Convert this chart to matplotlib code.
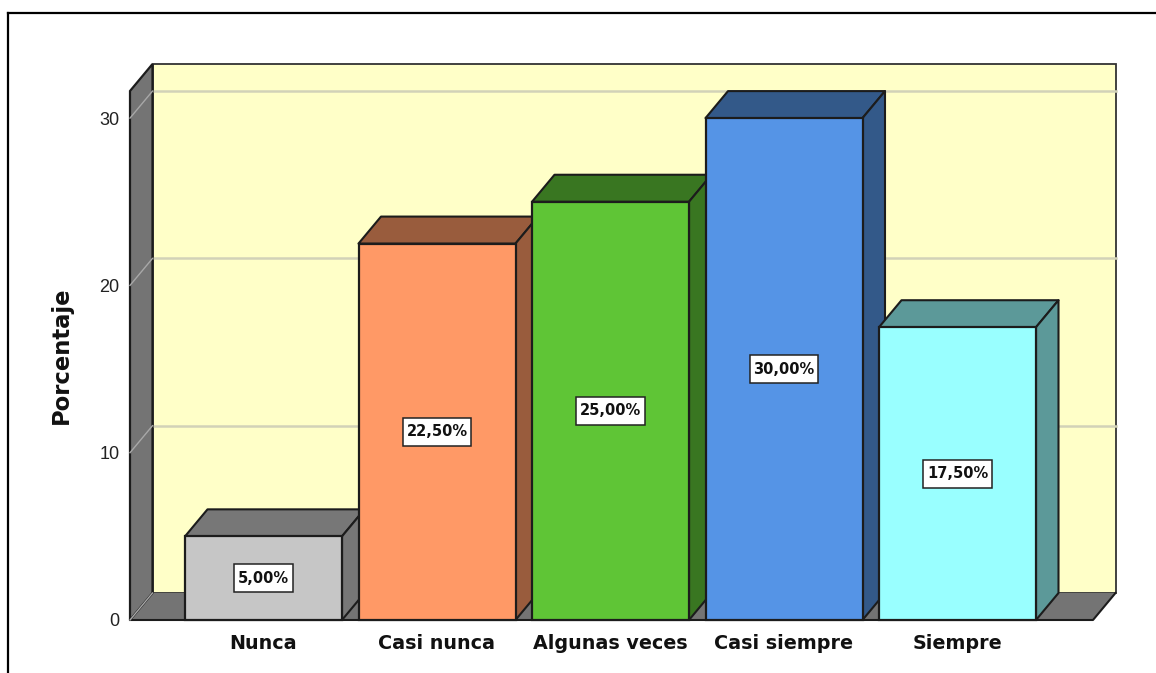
import numpy as np
import matplotlib
matplotlib.use('Agg')
import matplotlib.pyplot as plt
from matplotlib.patches import Polygon, Rectangle

categories = ['Nunca', 'Casi nunca', 'Algunas veces', 'Casi siempre', 'Siempre']
values = [5.0, 22.5, 25.0, 30.0, 17.5]
labels = ['5,00%', '22,50%', '25,00%', '30,00%', '17,50%']
front_colors = ['#C6C6C6', '#FF9966', '#5FC536', '#5594E6', '#99FFFF']
dark_colors = ['#777777', '#995C3D', '#397621', '#335989', '#5C9999']
yticks = [0, 10, 20, 30]

W, H = 1156, 673
plt.rcParams['font.family'] = ['Liberation Sans', 'DejaVu Sans']

fig = plt.figure(figsize=(W / 100, H / 100), dpi=100)
ax = fig.add_axes([130 / W, (H - 620) / H, (1093 - 130) / W, (620 - 91) / H])
ax.set_xlim((130 - 263.5) / 173.5, (1093 - 263.5) / 173.5)
ax.set_ylim(0, (620 - 91) / 16.73)
ax.patch.set_visible(False)
for s in ax.spines.values():
    s.set_visible(False)

# depth of the fake 3d box, in data units
dx = 22.5 / 173.5
dy = 27 / 16.73
x0, x1 = ax.get_xlim()
y1 = ax.get_ylim()[1]
edge = '#1c1c1c'
wall = '#747474'

# back wall, floor, left wall
ax.add_patch(Polygon([(x0 + dx, dy), (x1 + dx, dy), (x1 + dx, y1 + dy), (x0 + dx, y1 + dy)],
                     fc='#FFFFC8', ec='#333333', lw=1.3, clip_on=False, zorder=1))
for t in yticks[1:]:
    ax.plot([x0 + dx, x1 + dx], [t + dy, t + dy], color='#D2D2B8', lw=1.8, clip_on=False, zorder=1.5)
ax.add_patch(Polygon([(x0, 0), (x1, 0), (x1 + dx, dy), (x0 + dx, dy)],
                     fc=wall, ec='none', clip_on=False, zorder=2))
ax.plot([x0, x1, x1 + dx], [0, 0, dy], color=edge, lw=1.5, clip_on=False, zorder=2.1)
ax.add_patch(Polygon([(x0, 0), (x0 + dx, dy), (x0 + dx, y1 + dy), (x0, y1)],
                     fc=wall, ec=edge, lw=1.6, clip_on=False, zorder=2))
for t in yticks:
    ax.plot([x0, x0 + dx], [t, t + dy], color='#A8A8A8', lw=1, clip_on=False, zorder=2.5)

# bars, left to right so each one hides the side of the previous
bw = 157 / 173.5
boxes = []
for i, v in enumerate(values):
    z = 3 + i
    l, r = i - bw / 2, i + bw / 2
    ax.add_patch(Polygon([(l, v), (r, v), (r + dx, v + dy), (l + dx, v + dy)],
                         fc=dark_colors[i], ec=edge, lw=1.5, joinstyle='round', clip_on=False, zorder=z))
    ax.add_patch(Polygon([(r, 0), (r + dx, dy), (r + dx, v + dy), (r, v)],
                         fc=dark_colors[i], ec=edge, lw=1.5, joinstyle='round', clip_on=False, zorder=z))
    ax.bar(i, v, width=bw, color=front_colors[i], edgecolor=edge, linewidth=1.6, zorder=z + 0.1, clip_on=False)
    txt = ax.text(i, v / 2, labels[i], ha='center', va='center', fontsize=10.5, fontweight='bold',
                  family='DejaVu Sans', color='#111111', zorder=z + 0.3)
    boxes.append((txt, z))

# white boxes round the value labels, taller than the text
fig.canvas.draw()
rend = fig.canvas.get_renderer()
for (txt, z), v, i in zip(boxes, values, range(len(values))):
    w = (txt.get_window_extent(rend).width + 7) / 173.5
    h = 28 / 16.73
    ax.add_patch(Rectangle((i - w / 2, v / 2 - h / 2), w, h, fc='white', ec='#222222', lw=1.1, zorder=z + 0.2))

ax.set_xticks(range(len(categories)))
ax.set_xticklabels(categories, fontsize=13.8, fontweight='bold', family='DejaVu Sans', color='#111111')
ax.set_yticks(yticks)
ax.set_yticklabels([str(t) for t in yticks], fontsize=13, color='#222222')
ax.tick_params(axis='x', length=0, pad=10)
ax.tick_params(axis='y', length=0, pad=7.5)
ax.set_ylabel('Porcentaje', fontsize=16.3, fontweight='bold', family='DejaVu Sans', color='#111111', va='center')
ax.yaxis.set_label_coords((61.5 - 130) / (1093 - 130), (620 - 355) / (620 - 91))

# outer frame of the screenshot
fig.add_artist(plt.Line2D([7.5 / W, 7.5 / W], [0, (H - 12.5) / H], color='black', lw=1.6))
fig.add_artist(plt.Line2D([7.5 / W, 1], [(H - 12.5) / H, (H - 12.5) / H], color='black', lw=1.6))

fig.savefig('out.png', dpi=100)
